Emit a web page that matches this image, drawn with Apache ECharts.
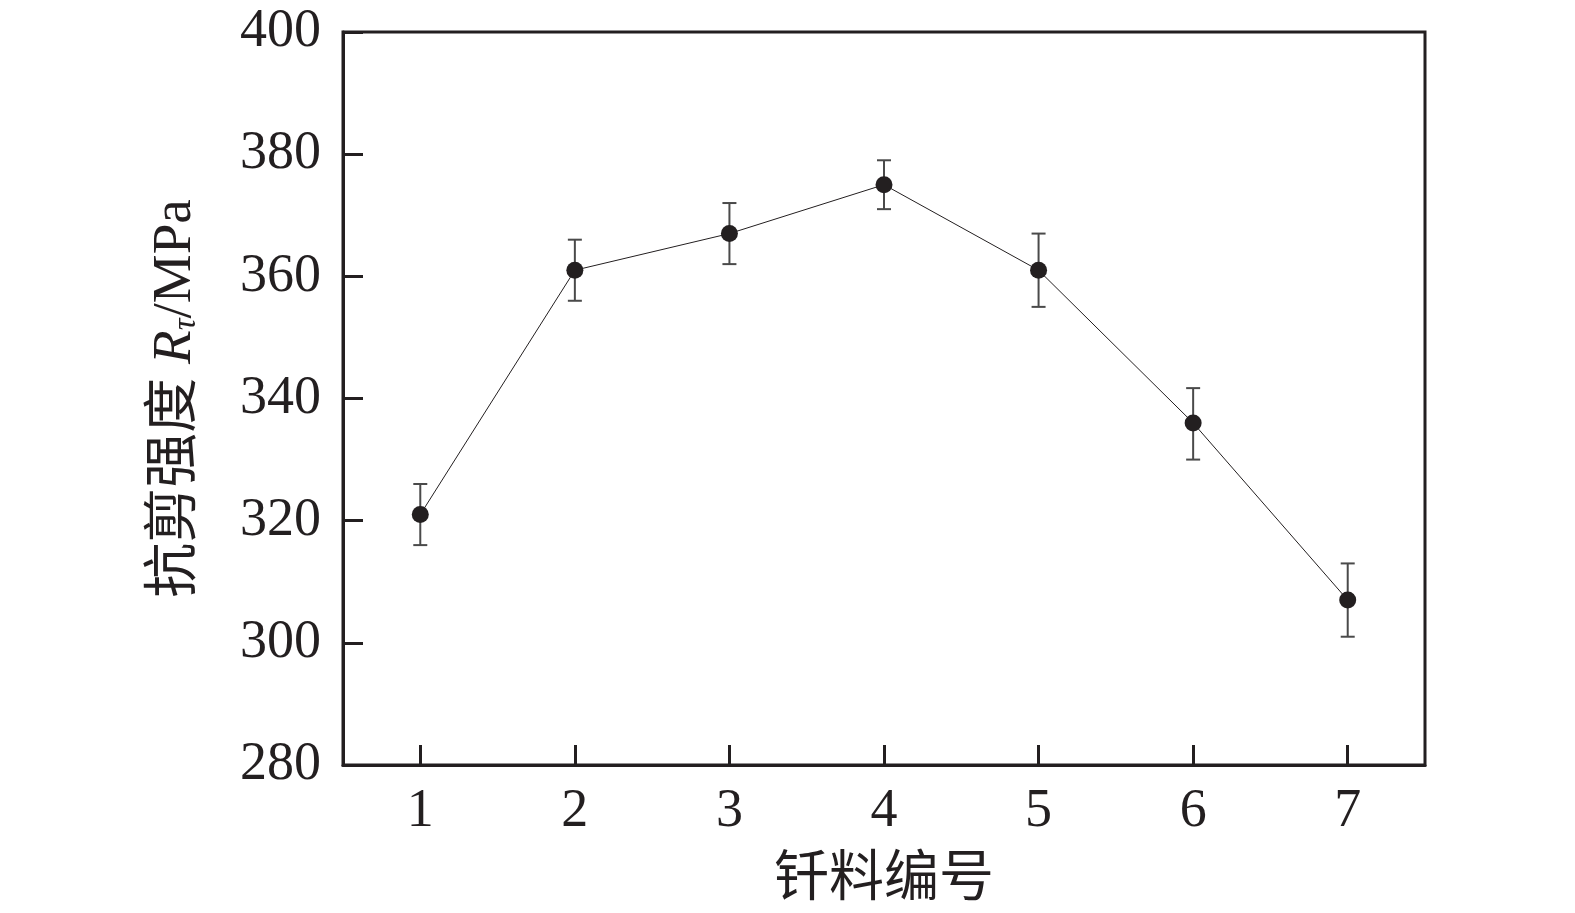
<!DOCTYPE html>
<html><head><meta charset="utf-8">
<script src="https://cdn.jsdelivr.net/npm/echarts@6/dist/echarts.min.js"></script>
<style>html,body{margin:0;padding:0;background:#fff}#c{width:1575px;height:913px}</style>
</head><body><div id="c"></div>
<script>
const categories = ['1','2','3','4','5','6','7'];
const strength = [321, 361, 367, 375, 361, 336, 307];
const upper = [326, 366, 372, 379, 367, 341.7, 313];
const lower = [316, 356, 362, 371, 355, 330, 301];
const yTicks = {min: 280, max: 400, interval: 20};

const ink = '#231f20';
const serif = '"Liberation Serif","Times New Roman","Noto Sans CJK SC",serif';
const chart = echarts.init(document.getElementById('c'));
chart.setOption({
  animation: false,
  grid: {left: 343, top: 32, right: 150, bottom: 147, show: true, borderColor: ink, borderWidth: 3, backgroundColor: 'transparent', z: 0},
  xAxis: {
    type: 'category', data: categories, boundaryGap: true, z: 5,
    axisLine: {show: true, lineStyle: {color: ink, width: 3}},
    axisTick: {show: true, inside: true, length: 20, alignWithLabel: true, lineStyle: {color: ink, width: 3}},
    axisLabel: {show: true, color: ink, fontFamily: serif, fontSize: 54, margin: 20},
    name: '钎料编号', nameLocation: 'middle', nameGap: 88,
    nameTextStyle: {color: ink, fontFamily: serif, fontSize: 55},
    splitLine: {show: false}
  },
  yAxis: {
    type: 'value', min: yTicks.min, max: yTicks.max, interval: yTicks.interval, z: 5,
    axisLine: {show: true, lineStyle: {color: ink, width: 3}},
    axisTick: {show: true, inside: true, length: 20, lineStyle: {color: ink, width: 3}},
    axisLabel: {show: true, color: ink, fontFamily: serif, fontSize: 54, margin: 22},
    splitLine: {show: false},
    name: '抗剪强度 {i|R}{s|τ}/MPa', nameLocation: 'middle', nameGap: 140, nameRotate: 90,
    nameTextStyle: {color: ink, fontFamily: serif, fontSize: 55,
      rich: {
        i: {fontStyle: 'italic', fontFamily: serif, fontSize: 55, color: ink},
        s: {fontStyle: 'italic', fontFamily: serif, fontSize: 33, color: ink, verticalAlign: 'bottom', padding: [20, 0, 0, 0]}
      }}
  },
  series: [
    {
      type: 'custom',
      data: categories.map((c, i) => [i, lower[i], upper[i]]),
      renderItem: function (params, api) {
        const x = api.value(0);
        const lo = api.coord([x, api.value(1)]);
        const hi = api.coord([x, api.value(2)]);
        const hw = 7;
        const st = {stroke: '#4a4a4a', lineWidth: 2};
        return {type: 'group', children: [
          {type: 'line', shape: {x1: lo[0], y1: lo[1], x2: hi[0], y2: hi[1]}, style: st},
          {type: 'line', shape: {x1: lo[0] - hw, y1: lo[1], x2: lo[0] + hw, y2: lo[1]}, style: st},
          {type: 'line', shape: {x1: hi[0] - hw, y1: hi[1], x2: hi[0] + hw, y2: hi[1]}, style: st}
        ]};
      },
      z: 2
    },
    {
      type: 'line', data: strength,
      lineStyle: {color: ink, width: 1},
      symbol: 'circle', symbolSize: 17,
      itemStyle: {color: ink},
      z: 3
    }
  ]
});
</script></body></html>
